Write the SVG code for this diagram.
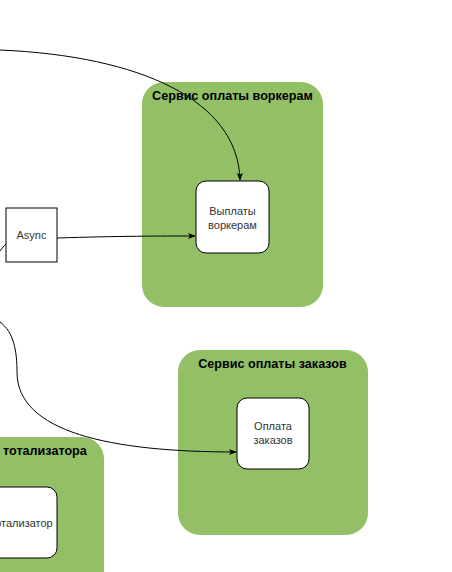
<svg xmlns="http://www.w3.org/2000/svg" width="452" height="572" viewBox="0 0 452 572">
<style>
.grp{fill:#93c066;stroke:none}
.node{fill:#fff;stroke:#000;stroke-width:1}
.title{font-family:"Liberation Sans",Arial,sans-serif;font-size:12.6px;font-weight:bold;fill:#000;text-anchor:middle}
.lbl{font-family:"Liberation Sans",Arial,sans-serif;font-size:11px;fill:#333;text-anchor:middle}
.edge{fill:none;stroke:#000;stroke-width:1}
</style>
<defs>
<marker id="arr" viewBox="0 0 10 10" refX="9" refY="5" markerWidth="8" markerHeight="8" markerUnits="userSpaceOnUse" orient="auto">
<path d="M0,1 L10,5 L0,9 L2.5,5 Z" fill="#000"/>
</marker>
</defs>
<g id="svc-workers">
<rect class="grp" x="142" y="82" width="181" height="225" rx="22"/>
<text class="title" x="232.5" y="100">Сервис оплаты воркерам</text>
</g>
<g id="svc-orders">
<rect class="grp" x="178" y="350" width="190" height="185" rx="22"/>
<text class="title" x="272.5" y="368">Сервис оплаты заказов</text>
</g>
<g id="svc-totalizator">
<rect class="grp" x="-71" y="437" width="175" height="160" rx="22"/>
<text class="title" x="20" y="455">Сервис тотализатора</text>
</g>
<g id="node-payouts">
<rect class="node" x="196" y="181" width="73" height="72" rx="10"/>
<text class="lbl" x="232.5" y="215">Выплаты</text>
<text class="lbl" x="232.5" y="229">воркерам</text>
</g>
<g id="node-orderpay">
<rect class="node" x="237" y="398" width="72" height="71" rx="10"/>
<text class="lbl" x="273" y="430">Оплата</text>
<text class="lbl" x="273" y="444">заказов</text>
</g>
<g id="node-totalizator">
<rect class="node" x="-15" y="487" width="72" height="71" rx="10"/>
<text class="lbl" x="21" y="527">Тотализатор</text>
</g>
<g id="node-async">
<rect class="node" x="6" y="208" width="51" height="54"/>
<text class="lbl" x="31.5" y="239">Async</text>
</g>
<g id="connectors">
<path class="edge" d="M0,50 C140,56 238,100 240,180" marker-end="url(#arr)"/>
<path class="edge" d="M57,238 C120,236 160,236 195,236" marker-end="url(#arr)"/>
<path class="edge" d="M0,251 C2,248 4,246 6,244"/>
<path class="edge" d="M0,322 C14,332 17,352 17,372 C17,432 110,452 236,452" marker-end="url(#arr)"/>
</g>
</svg>
